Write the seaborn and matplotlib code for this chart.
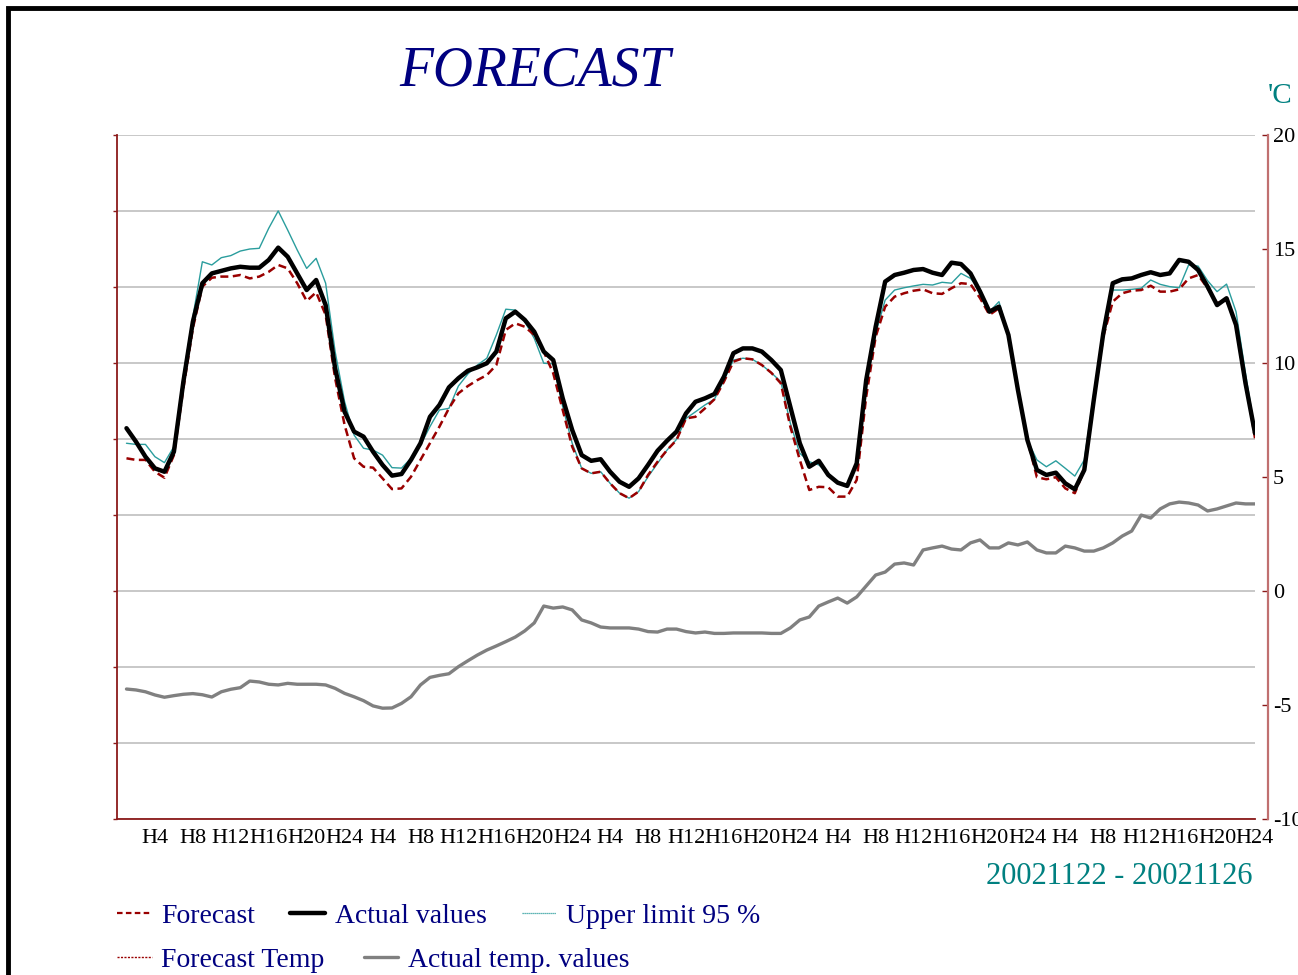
import matplotlib
matplotlib.use("Agg")
import matplotlib.pyplot as plt
import seaborn as sns
import numpy as np
import pandas as pd
from matplotlib.lines import Line2D
from matplotlib.patches import Rectangle

hours = list(range(1, 121))

actual = [7.14,6.55,5.89,5.38,5.23,6.11,9.18,11.81,13.50,13.93,14.04,14.15,14.22,14.18,14.18,14.52,15.06,14.66,13.93,13.20,13.64,12.54,9.77,7.86,
          6.99,6.77,6.11,5.53,5.06,5.13,5.75,6.48,7.64,8.16,8.93,9.33,9.66,9.81,9.99,10.50,11.96,12.25,11.89,11.37,10.50,10.13,8.45,7.06,
          5.96,5.71,5.78,5.23,4.79,4.57,4.94,5.53,6.15,6.59,6.99,7.79,8.30,8.45,8.64,9.40,10.43,10.64,10.64,10.50,10.13,9.69,8.08,6.48,
          5.45,5.71,5.09,4.75,4.61,5.60,9.25,11.59,13.57,13.86,13.96,14.08,14.12,13.96,13.86,14.40,14.34,13.93,13.14,12.25,12.47,11.23,8.82,6.62,
          5.31,5.09,5.19,4.72,4.46,5.31,8.38,11.30,13.50,13.67,13.71,13.86,13.98,13.86,13.93,14.52,14.44,14.08,13.35,12.54,12.84,11.67,9.11,6.92]

forecast = [5.82,5.75,5.75,5.23,4.97,5.96,8.89,11.52,13.35,13.74,13.79,13.79,13.86,13.71,13.79,14.00,14.30,14.15,13.50,12.72,13.10,12.11,9.33,7.28,
            5.82,5.45,5.41,4.94,4.47,4.50,5.01,5.75,6.48,7.21,8.01,8.67,8.99,9.25,9.47,9.91,11.45,11.74,11.59,11.23,10.50,9.55,7.94,6.33,
            5.38,5.16,5.23,4.72,4.29,4.07,4.36,5.09,5.67,6.18,6.62,7.57,7.64,8.01,8.41,9.18,10.06,10.21,10.16,9.91,9.57,9.11,7.21,5.75,
            4.43,4.57,4.55,4.14,4.14,4.87,8.52,11.15,12.47,12.91,13.06,13.17,13.23,13.06,13.03,13.28,13.50,13.46,12.85,12.11,12.40,11.23,8.82,6.62,
            4.99,4.90,4.99,4.50,4.29,5.31,8.38,11.15,12.69,13.06,13.17,13.20,13.39,13.13,13.13,13.23,13.71,13.86,13.28,12.62,12.76,11.67,9.25,6.70]

upper = [6.48,6.43,6.43,5.89,5.63,6.33,9.47,12.03,14.44,14.30,14.62,14.71,14.91,15.00,15.03,15.91,16.67,15.83,14.96,14.15,14.59,13.50,10.50,8.30,
         6.84,6.26,6.18,5.96,5.41,5.39,5.82,6.40,7.21,7.94,8.01,8.99,9.52,9.91,10.21,11.23,12.36,12.32,11.81,11.08,9.99,9.96,8.08,6.48,
         5.38,5.16,5.23,4.72,4.29,4.07,4.36,5.01,5.60,6.18,6.65,7.57,7.86,8.16,8.41,9.25,10.13,10.21,10.16,9.91,9.57,9.18,7.36,6.04,
         5.67,5.53,5.16,4.79,4.57,5.67,8.96,11.30,12.76,13.20,13.30,13.38,13.45,13.42,13.54,13.50,13.93,13.71,13.20,12.25,12.69,11.23,8.82,6.62,
         5.75,5.45,5.71,5.38,5.04,5.75,8.67,11.37,13.20,13.20,13.23,13.28,13.64,13.45,13.35,13.30,14.30,14.25,13.61,13.13,13.46,12.25,9.55,6.99]

actual_temp = [-4.30,-4.34,-4.42,-4.56,-4.66,-4.59,-4.53,-4.50,-4.55,-4.65,-4.42,-4.31,-4.24,-3.95,-3.99,-4.09,-4.12,-4.05,-4.09,-4.09,-4.09,-4.12,-4.27,-4.49,
               -4.64,-4.81,-5.04,-5.14,-5.13,-4.93,-4.64,-4.12,-3.79,-3.70,-3.63,-3.32,-3.06,-2.81,-2.59,-2.41,-2.22,-2.02,-1.75,-1.40,-0.66,-0.75,-0.70,-0.83,
               -1.27,-1.40,-1.58,-1.62,-1.62,-1.62,-1.67,-1.78,-1.80,-1.67,-1.67,-1.78,-1.84,-1.80,-1.86,-1.86,-1.84,-1.84,-1.84,-1.84,-1.86,-1.86,-1.62,-1.27,
               -1.14,-0.66,-0.48,-0.31,-0.53,-0.26,0.22,0.70,0.83,1.18,1.23,1.14,1.80,1.89,1.97,1.84,1.80,2.11,2.24,1.89,1.89,2.11,2.02,2.15,
               1.80,1.67,1.67,1.97,1.89,1.75,1.75,1.89,2.11,2.41,2.63,3.33,3.20,3.60,3.82,3.90,3.86,3.77,3.51,3.60,3.73,3.86,3.82,3.82]

forecast_temp = []  # not drawn in the reference, legend entry only

tick_hours = list(range(4, 121, 4))
tick_labels = ["H4", "H8", "H12", "H16", "H20", "H24"] * 5
temp_ticks = [-10, -5, 0, 5, 10, 15, 20]

title = "FORECAST"
unit = "'C"
period = "20021122 - 20021126"

sns.set_style("white")
plt.rcParams['font.family'] = ['Liberation Serif', 'DejaVu Serif']

fig = plt.figure(figsize=(12.98, 9.75), dpi=100)
ax = fig.add_axes([117/1298, 1-819/975, (1255-117)/1298, (819-135)/975])

RED = '#8b1a1a'
TEAL = '#2a9d9d'
NAVY = '#000080'

sns.lineplot(x=hours, y=upper, ax=ax, color=TEAL, lw=1.0, zorder=3)
sns.lineplot(x=hours, y=forecast, ax=ax, color='#990000', lw=1.8, linestyle=(0, (3.2, 1.8)), zorder=4)
sns.lineplot(x=hours, y=actual, ax=ax, color='black', lw=3.2, zorder=5)
sns.lineplot(x=hours, y=actual_temp, ax=ax, color='#808080', lw=2.4, zorder=4)
if forecast_temp:
    sns.lineplot(x=hours[:len(forecast_temp)], y=forecast_temp, ax=ax, color='#990000', lw=1, linestyle=':')

ax.set_xlim(0, 120)
ax.set_ylim(-10, 20)
ax.set_yticks(np.linspace(-10, 20, 10))
ax.set_yticklabels([])
ax.yaxis.grid(True, color='#c4c4c4', lw=1.3)
ax.xaxis.grid(False)
ax.set_xticks(tick_hours)
ax.set_xticklabels(tick_labels)
ax.tick_params(axis='x', direction='out', length=4, width=1, color=RED, pad=3,
               labelcolor='black', labelsize=16)
ax.tick_params(axis='y', direction='out', length=3, width=1, color=RED)
for s in ['top', 'right']:
    ax.spines[s].set_visible(False)
for s in ['left', 'bottom']:
    ax.spines[s].set_color(RED)
    ax.spines[s].set_linewidth(1.3)
ax.set_xlabel('')
ax.set_ylabel('')

ax2 = ax.twinx()
ax2.set_ylim(-10, 20)
ax2.set_yticks(temp_ticks)
ax2.set_yticklabels([str(t) for t in temp_ticks])
ax2.spines['right'].set_position(('outward', 9))
ax2.spines['right'].set_color('#c07070')
ax2.spines['right'].set_linewidth(1.6)
for s in ['top', 'left', 'bottom']:
    ax2.spines[s].set_visible(False)
ax2.tick_params(axis='y', which='both', direction='in', length=4, width=1, color=RED, pad=4,
                labelsize=16, labelcolor='black', right=True, labelright=True)
ax2.grid(False)

fig.text(0.412, 1-72/975, title, ha='center', va='center', style='italic',
         fontsize=40, color=NAVY)
fig.text(1268/1298, 1-96/975, unit, ha='left', va='center', fontsize=21, color='#008080')
fig.text(1253/1298, 1-876/975, period, ha='right', va='center', fontsize=22, color='#008080')

h1 = [Line2D([], [], color='#990000', lw=1.6, linestyle=(0, (2.5, 1.5))),
      Line2D([], [], color='black', lw=3.2),
      Line2D([], [], color=TEAL, lw=0.9, linestyle=(0, (1, 0.6)))]
l1 = ["Forecast", "Actual values", "Upper limit 95 %"]
h2 = [Line2D([], [], color='#990000', lw=1.0, linestyle=(0, (1.5, 1))),
      Line2D([], [], color='#808080', lw=2.4)]
l2 = ["Forecast Temp", "Actual temp. values"]

leg1 = fig.legend(h1, l1, loc='center left', bbox_to_anchor=(117/1298, 1-916/975),
                  ncol=3, frameon=False, fontsize=20, handlelength=1.25, handletextpad=0.35,
                  columnspacing=1.26, borderpad=0, borderaxespad=0, labelcolor=NAVY)
leg2 = fig.legend(h2, l2, loc='center left', bbox_to_anchor=(117/1298, 1-960/975),
                  ncol=2, frameon=False, fontsize=20, handlelength=1.25, handletextpad=0.35,
                  columnspacing=1.4, borderpad=0, borderaxespad=0, labelcolor=NAVY)

fig.patches.append(Rectangle((8/1298, -0.5), 2.0, 0.5 + (1-8/975), transform=fig.transFigure,
                             fill=False, edgecolor='black', lw=3.5, clip_on=False))

fig.savefig("out.png", dpi=100)
